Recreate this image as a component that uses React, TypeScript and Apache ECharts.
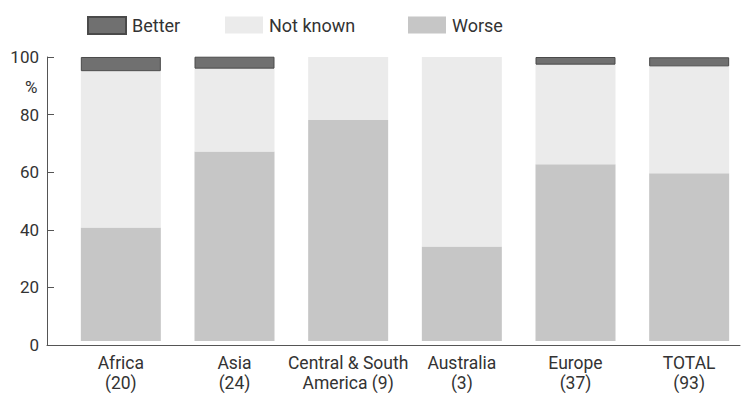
import React, { useEffect, useRef } from "react";
import * as echarts from "echarts";

const categories = ["Africa\n(20)", "Asia\n(24)", "Central & South\nAmerica (9)", "Australia\n(3)", "Europe\n(37)", "TOTAL\n(93)"];
const worse = [40, 66.7, 77.8, 33.3, 62.2, 59.1];
const notKnown = [55, 29.2, 22.2, 66.7, 35.1, 37.6];
const better = [5, 4.2, 0, 0, 2.7, 3.2];
const yTicks = [0, 20, 40, 60, 80, 100];

const COLORS: Record<string, string> = { Better: "#707070", "Not known": "#ebebeb", Worse: "#c6c6c6" };

export default function App() {
  const ref = useRef<HTMLDivElement>(null);
  useEffect(() => {
    if (!ref.current) return;
    const chart = echarts.init(ref.current, null, { renderer: "svg" });
    const font = "Roboto, 'Noto Sans', sans-serif";
    const legendBase = {
      top: 11,
      itemWidth: 38,
      itemHeight: 17,
      icon: "rect",
      textStyle: { fontSize: 18, color: "#333", fontFamily: font, padding: [0, 0, 0, 1] },
    };
    chart.setOption({
      animation: false,
      backgroundColor: "#ffffff",
      textStyle: { fontFamily: font },
      legend: [
        { ...legendBase, left: 82, data: ["Better"] },
        { ...legendBase, left: 220, data: ["Not known"] },
        { ...legendBase, left: 403, data: ["Worse"] },
      ],
      graphic: [
        { type: "text", left: 25, top: 78, style: { text: "%", fontSize: 17, fill: "#333", fontFamily: font } },
      ],
      grid: [
        { left: 64, right: -12, top: 57, bottom: 48 },
        { left: 47, right: 6, top: 57, bottom: 48 },
      ],
      xAxis: [
        {
          type: "category",
          gridIndex: 0,
          data: categories,
          axisLine: { show: false },
          axisTick: { show: false },
          axisLabel: { fontSize: 17.5, color: "#333", lineHeight: 20, margin: 12, interval: 0, fontFamily: font },
        },
        {
          type: "value",
          gridIndex: 1,
          min: 0,
          max: 1,
          axisLine: { show: true, lineStyle: { color: "#555", width: 1 } },
          axisTick: { show: false },
          axisLabel: { show: false },
          splitLine: { show: false },
        },
      ],
      yAxis: [
        { type: "value", gridIndex: 0, min: 0, max: 100, show: false },
        {
          type: "value",
          gridIndex: 1,
          min: 0,
          max: 100,
          interval: 20,
          axisLine: { show: true, lineStyle: { color: "#555", width: 1 } },
          axisTick: { show: true, inside: true, length: 7, lineStyle: { color: "#555" } },
          axisLabel: { fontSize: 17, color: "#333", margin: 8, fontFamily: font, formatter: (v: number) => (yTicks.includes(v) ? String(v) : "") },
          splitLine: { show: false },
        },
      ],
      series: [
        {
          name: "Worse",
          type: "bar",
          stack: "a",
          xAxisIndex: 0,
          yAxisIndex: 0,
          barWidth: 80,
          data: worse,
          itemStyle: { color: COLORS.Worse },
        },
        {
          name: "Not known",
          type: "bar",
          stack: "a",
          xAxisIndex: 0,
          yAxisIndex: 0,
          barWidth: 80,
          data: notKnown,
          itemStyle: { color: COLORS["Not known"] },
        },
        {
          name: "Better",
          type: "bar",
          stack: "a",
          xAxisIndex: 0,
          yAxisIndex: 0,
          barWidth: 80,
          data: better.map((v) => (v === 0 ? null : v)),
          itemStyle: { color: COLORS.Better, borderColor: "#4a4a4a", borderWidth: 1 },
        },
      ],
    });
    return () => chart.dispose();
  }, []);
  return <div ref={ref} style={{ position: "fixed", left: 0, top: 0, width: 746, height: 393 }} />;
}
